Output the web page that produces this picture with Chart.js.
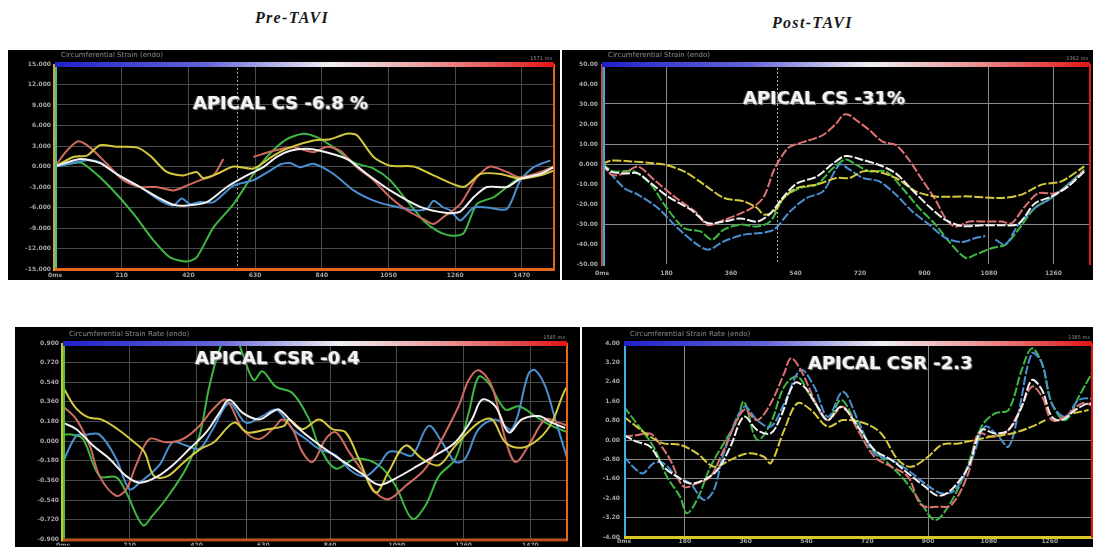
<!DOCTYPE html>
<html>
<head>
<meta charset="utf-8">
<script src="https://cdn.jsdelivr.net/npm/chart.js@4.4.1/dist/chart.umd.min.js"></script>
<style>
  html, body { margin: 0; padding: 0; background: #fff; }
  body { position: relative; width: 1093px; height: 547px; overflow: hidden; }
  .panel { position: absolute; background: #000; }
  .panel canvas { display: block; }
  .title { position: absolute; font: italic bold 16px "Liberation Serif", "DejaVu Serif", serif;
           letter-spacing: 1.3px; color: #1a1a1a; white-space: nowrap; line-height: 16px; }
  .tag { position: absolute; font: bold 18px "DejaVu Sans", sans-serif; line-height: 18px;
         color: #f4f4f4; text-shadow: 1px 1px 1px #8a8a8a, -1px 0 1px #555; white-space: nowrap; }
</style>
</head>
<body>

<div class="title" style="left:255px; top:10px;">Pre-TAVI</div>
<div class="title" style="left:772px; top:15px;">Post-TAVI</div>

<div class="panel" style="left:8px; top:50px; width:552px; height:230px;"><canvas id="preCs" width="552" height="230"></canvas></div>
<div class="panel" style="left:562px; top:50px; width:531px; height:230px;"><canvas id="postCs" width="531" height="230"></canvas></div>
<div class="panel" style="left:15px; top:327px; width:565px; height:220px;"><canvas id="preCsr" width="565" height="220"></canvas></div>
<div class="panel" style="left:582px; top:327px; width:511px; height:220px;"><canvas id="postCsr" width="511" height="220"></canvas></div>

<div class="tag" style="left:193px; top:94px;">APICAL CS -6.8 %</div>
<div class="tag" style="left:743px; top:89px;">APICAL CS -31%</div>
<div class="tag" style="left:195px; top:349px;">APICAL CSR -0.4</div>
<div class="tag" style="left:808px; top:354px;">APICAL CSR -2.3</div>

<script>
// ---- Pre-TAVI apical circumferential strain (%), [time ms, value] ----
const preCsWhite  = [[0,0],[79,1.1],[142,0.5],[194,-1.1],[268,-3.0],[331,-4.7],[373,-5.6],[415,-5.7],[478,-5.2],[541,-3.0],[604,-1.3],[656,-0.1],[698,1.4],[740,2.3],[790,2.6],[835,2.3],[919,1.1],[982,-1.1],[1055,-3.5],[1150,-5.9],[1234,-6.8],[1276,-6.6],[1318,-4.5],[1360,-3.0],[1423,-3.0],[1465,-1.8],[1528,-1.1],[1570,-0.1]];
const preCsGreen  = [[0,0],[79,0.6],[110,-0.3],[173,-3.0],[247,-6.9],[310,-10.8],[362,-13.3],[415,-13.9],[446,-13.3],[499,-8.9],[562,-5.5],[625,-1.1],[677,1.9],[730,4.0],[782,4.8],[824,4.3],[877,2.8],[940,0.6],[1003,-0.3],[1055,-2.0],[1108,-5.0],[1160,-7.9],[1202,-9.4],[1244,-10.1],[1286,-9.8],[1328,-5.5],[1381,-4.5],[1423,-3.0],[1465,-1.6],[1518,-1.1],[1570,0]];
const preCsYellow = [[0,0],[58,1.4],[100,1.6],[142,3.1],[194,2.9],[257,2.8],[299,1.6],[352,-0.8],[404,-1.3],[446,-0.8],[467,-1.7],[509,-1.1],[562,0],[625,-0.3],[688,1.6],[740,2.8],[814,3.8],[866,4.0],[919,4.8],[950,4.6],[1003,1.4],[1055,0.1],[1129,0],[1192,-1.3],[1286,-3.0],[1339,-1.1],[1402,-1.1],[1465,-1.8],[1528,-1.3],[1570,-0.6]];
const preCsRed    = [[0,0],[37,2.3],[73,3.7],[110,2.8],[163,0.4],[215,-2.0],[268,-3.0],[320,-3.0],[373,-3.5],[415,-2.8],[457,-2.0],[499,-1.3],[530,1.1],[560,null],[625,1.4],[688,2.3],[751,2.8],[814,2.1],[856,2.9],[898,2.3],[950,-0.1],[1003,-2.0],[1055,-4.5],[1108,-6.4],[1160,-7.7],[1192,-8.4],[1223,-7.4],[1276,-5.5],[1328,-1.6],[1370,0],[1423,-0.8],[1465,-1.6],[1528,-0.8],[1570,-0.1]];
const preCsBlue   = [[0,0],[47,0.4],[100,0.9],[142,0.6],[194,-1.1],[268,-3.0],[331,-5.0],[373,-5.7],[399,-4.7],[425,-5.5],[457,-5.2],[499,-5.2],[562,-2.8],[625,-2.0],[677,-0.6],[709,0.3],[740,0.5],[772,-0.1],[814,0.4],[877,-1.1],[940,-3.5],[1003,-5.0],[1055,-5.7],[1129,-6.4],[1171,-6.2],[1192,-5.0],[1223,-6.0],[1244,-6.4],[1276,-7.9],[1318,-6.0],[1360,-6.0],[1423,-6.2],[1465,-2.0],[1507,-0.1],[1560,0.9]];

// ---- Post-TAVI apical circumferential strain (%) ----
const postCsWhite  = [[0,0],[25,-3.8],[62,-4.7],[100,-4.7],[137,-9.7],[184,-16.3],[249,-23],[294,-29.5],[340,-28.8],[387,-27.2],[433,-28.8],[470,-24.7],[507,-16.3],[544,-9.7],[599,-6.3],[645,0.3],[680,4.0],[728,2.0],[774,-0.5],[820,-4.7],[866,-13],[913,-21.3],[959,-28],[1005,-31],[1061,-30.6],[1116,-30.6],[1162,-30],[1208,-19.7],[1254,-16.3],[1300,-11.3],[1346,-3.8]];
const postCsRed    = [[0,0],[29,-5.5],[62,-4.7],[100,-1.3],[146,-8],[202,-16.3],[266,-24.7],[294,-30.5],[340,-28],[387,-24.7],[424,-21.3],[452,-16.3],[480,-3],[507,5.3],[525,8.7],[580,12],[617,14.5],[654,20.3],[673,24.5],[690,24.5],[709,22],[746,17],[783,11.2],[820,9.5],[857,2],[894,-8],[931,-18],[959,-27.2],[986,-31.3],[1024,-28.8],[1070,-28.8],[1116,-28.8],[1143,-29.7],[1180,-21.3],[1217,-14.7],[1263,-14.7],[1300,-11.3],[1346,-3]];
const postCsGreen  = [[0,0],[33,-3.7],[89,-3.7],[137,-10.3],[174,-20.3],[229,-32],[275,-33.7],[307,-37.8],[340,-32.8],[387,-30.3],[433,-31.2],[470,-28.7],[507,-17],[553,-12],[599,-10.3],[645,-2],[680,2.2],[709,-0.3],[746,-3.7],[792,-3.7],[838,-12],[885,-22],[931,-30.3],[968,-38.7],[1015,-47],[1042,-45.3],[1089,-42],[1126,-40.3],[1162,-32.8],[1208,-22],[1254,-17],[1300,-10.3],[1346,-2.8]];
const postCsBlue   = [[0,0],[62,-12],[100,-15.3],[156,-22],[211,-32],[266,-40.3],[298,-42.8],[340,-38.7],[396,-35.3],[442,-34.5],[480,-32.8],[525,-23.7],[571,-17],[617,-13.7],[663,-0.3],[691,-2.8],[728,-7],[774,-8.7],[820,-15.3],[866,-23.7],[913,-30.3],[959,-37],[1005,-39],[1042,-37],[1070,-36],[1080,null],[1098,-37.8],[1126,-40.3],[1162,-30.3],[1208,-22],[1254,-17],[1300,-10.3],[1346,-3.7]];
const postCsYellow = [[0,0],[25,1.7],[80,1.3],[137,0.5],[174,-0.3],[229,-3.7],[285,-10.3],[340,-17],[396,-18.7],[433,-22],[452,-25.3],[480,-23.7],[507,-17],[544,-12],[599,-10.3],[654,-7],[691,-7],[728,-3.7],[765,-3.7],[820,-7],[876,-13.7],[931,-16.2],[1024,-16.2],[1116,-17],[1171,-15.3],[1227,-10.3],[1282,-8.7],[1346,-1.2]];

// ---- Pre-TAVI apical circumferential strain rate (1/s) ----
const preCsrWhite  = [[0,0.17],[42,0.11],[94,-0.04],[146,-0.16],[199,-0.32],[241,-0.38],[293,-0.33],[345,-0.22],[398,-0.07],[450,0.08],[492,0.26],[523,0.38],[565,0.26],[617,0.2],[659,0.27],[680,0.29],[732,0.14],[795,-0.01],[868,-0.16],[941,-0.3],[993,-0.4],[1046,-0.34],[1119,-0.22],[1171,-0.13],[1234,-0.01],[1286,0.2],[1318,0.38],[1360,0.32],[1402,0.08],[1443,0.2],[1496,0.23],[1537,0.17],[1579,0.12]];
const preCsrGreen  = [[0,0.06],[31,0.06],[63,0.02],[115,-0.32],[167,-0.33],[199,-0.47],[251,-0.77],[282,-0.68],[324,-0.53],[387,-0.25],[429,0.05],[460,0.5],[492,0.84],[530,1.05],[565,0.8],[600,0.56],[627,0.64],[669,0.5],[722,0.44],[774,0.2],[805,-0.04],[858,-0.25],[920,-0.16],[993,-0.22],[1046,-0.41],[1098,-0.71],[1140,-0.59],[1182,-0.32],[1234,-0.16],[1276,0.26],[1307,0.59],[1339,0.53],[1391,0.29],[1433,0.32],[1485,0.23],[1537,0.14],[1589,0.08]];
const preCsrYellow = [[0,0.5],[36,0.32],[78,0.22],[120,0.2],[172,0.11],[224,-0.01],[256,-0.1],[287,-0.32],[329,-0.32],[381,-0.19],[433,-0.07],[475,-0.01],[538,0.17],[580,0.08],[643,0.11],[695,0.14],[711,0.2],[753,0.11],[805,0.2],[847,0.11],[889,0.08],[930,-0.16],[983,-0.47],[1024,-0.28],[1077,-0.04],[1129,-0.16],[1182,-0.22],[1234,-0.04],[1307,0.17],[1349,0.2],[1391,-0.01],[1443,-0.06],[1496,0.02],[1537,0.17],[1579,0.47],[1600,0.53]];
const preCsrRed    = [[0,0.32],[42,0.2],[84,-0.04],[115,-0.32],[167,-0.5],[199,-0.44],[230,-0.22],[272,0.02],[324,-0.01],[377,0.02],[429,0.14],[471,0.29],[513,0.38],[565,0.11],[617,0.02],[669,0.14],[690,0.2],[722,0.11],[753,-0.1],[785,-0.19],[826,0.02],[858,0.08],[900,-0.1],[952,-0.32],[983,-0.47],[1024,-0.53],[1077,-0.41],[1140,-0.25],[1192,0.02],[1244,0.32],[1276,0.56],[1307,0.65],[1349,0.5],[1391,0.02],[1423,-0.19],[1464,-0.04],[1517,0.2],[1558,0.17],[1589,0.14]];
const preCsrBlue   = [[0,-0.19],[42,0.05],[73,0.06],[115,0.06],[167,-0.16],[209,-0.44],[241,-0.38],[303,-0.22],[345,-0.01],[387,-0.04],[429,-0.07],[471,0.11],[523,0.35],[575,0.17],[627,0.23],[669,0.29],[700,0.2],[722,0.11],[764,0.02],[805,-0.07],[858,-0.13],[910,-0.28],[952,-0.32],[993,-0.22],[1024,-0.1],[1056,-0.1],[1098,-0.13],[1150,0.14],[1192,-0.01],[1234,-0.19],[1265,-0.16],[1307,0.11],[1360,0.2],[1412,0.11],[1464,0.62],[1485,0.65],[1517,0.5],[1548,0.2],[1589,-0.19]];

// ---- Post-TAVI apical circumferential strain rate (1/s) ----
const postCsrWhite  = [[0,0.2],[37,-0.07],[77,-0.27],[117,-1.1],[156,-1.5],[196,-1.79],[236,-1.65],[276,-1.24],[315,-0.27],[355,0.96],[394,0.41],[434,0.27],[464,0.96],[504,2.34],[533,2.2],[573,1.37],[603,0.82],[643,1.37],[692,0.55],[741,-0.41],[791,-0.82],[840,-1.37],[890,-1.92],[930,-2.3],[969,-2.05],[1019,-1.1],[1058,0.41],[1098,0.27],[1138,0.41],[1177,1.37],[1207,2.47],[1237,2.06],[1266,0.96],[1296,0.82],[1336,1.24],[1375,1.51],[1395,1.37]];
const postCsrGreen  = [[0,1.37],[37,0.69],[87,-0.27],[127,-1.51],[166,-2.34],[186,-3.02],[216,-2.47],[256,-1.1],[295,-0.14],[335,0.82],[355,1.58],[394,0],[434,0.69],[474,2.2],[513,2.61],[553,1.79],[603,0.82],[642,1.65],[682,0.82],[731,-0.27],[781,-0.96],[830,-1.65],[880,-2.61],[920,-3.3],[959,-2.75],[1009,-1.37],[1058,0.55],[1098,1.1],[1138,1.24],[1177,2.89],[1207,3.78],[1237,3.16],[1266,1.51],[1306,0.82],[1346,1.79],[1395,3.02]];
const postCsrBlue   = [[0,-0.69],[37,-1.24],[57,-1.37],[87,-0.96],[117,-0.96],[156,-1.51],[196,-1.79],[236,-2.47],[266,-2.06],[295,-0.55],[355,1.37],[394,0.82],[434,0.55],[474,1.51],[523,2.89],[563,2.2],[603,0.96],[648,1.99],[692,0.82],[741,-0.55],[791,-0.82],[840,-1.24],[890,-1.79],[940,-2.2],[979,-2.06],[1029,-0.82],[1068,0.55],[1108,0.14],[1138,-0.27],[1167,1.1],[1207,3.57],[1237,3.16],[1266,1.51],[1306,0.96],[1346,1.65],[1395,1.72]];
const postCsrRed    = [[0,0.14],[37,0.2],[77,0.27],[97,0],[137,-0.82],[176,-1.92],[216,-1.79],[256,-1.51],[295,-0.41],[355,1.24],[394,0.82],[434,1.51],[474,2.75],[494,3.37],[523,2.89],[573,1.37],[603,0.82],[648,1.37],[692,0.41],[741,-0.69],[791,-1.1],[840,-1.51],[880,-2.68],[930,-2.75],[969,-2.68],[1019,-1.37],[1048,0.27],[1088,0.14],[1128,0.27],[1167,1.1],[1207,2.2],[1237,1.79],[1266,0.82],[1306,0.96],[1355,1.51],[1395,1.37]];
const postCsrYellow = [[0,0.96],[37,0.55],[77,0.14],[117,-0.14],[166,-0.2],[216,-0.55],[266,-1.1],[315,-0.82],[365,-0.55],[414,-0.69],[434,-0.96],[474,0.41],[513,1.51],[553,1.24],[603,0.55],[648,0.82],[712,0.69],[761,0.27],[811,-0.82],[850,-1.1],[900,-0.69],[940,-0.2],[989,-0.14],[1038,0],[1088,0.14],[1148,0.27],[1207,0.55],[1247,0.82],[1270,null],[1330,1.1],[1375,1.24]];

// ---- axis ticks and labels ----
const preCsYTicks   = [-15,-12,-9,-6,-3,0,3,6,9,12,15];
const preCsYLabels  = ['-15.000','-12.000','-9.000','-6.000','-3.000','0.000','3.000','6.000','9.000','12.000','15.000'];
const postCsYTicks  = [-50,-40,-30,-20,-10,0,10,20,30,40,50];
const postCsYLabels = ['-50.00','-40.00','-30.00','-20.00','-10.00','0.000','10.00','20.00','30.00','40.00','50.00'];
const preCsrYTicks  = [-0.9,-0.72,-0.54,-0.36,-0.18,0,0.18,0.36,0.54,0.72,0.9];
const preCsrYLabels = ['-0.900','-0.720','-0.540','-0.360','-0.180','0.000','0.180','0.360','0.540','0.720','0.900'];
const postCsrYTicks  = [-4,-3.2,-2.4,-1.6,-0.8,0,0.8,1.6,2.4,3.2,4];
const postCsrYLabels = ['-4.00','-3.20','-2.40','-1.60','-0.80','0.00','0.80','1.60','2.40','3.20','4.00'];

const preXTicks   = [0,210,420,630,840,1050,1260,1470];
const preXLabels  = ['0ms','210','420','630','840','1050','1260','1470'];
const postXTicks  = [0,180,360,540,720,900,1080,1260];
const postXLabels = ['0ms','180','360','540','720','900','1080','1260'];

// cycle lengths (ms) and aortic valve closure markers (ms)
const preCsDuration = 1571, postCsDuration = 1362, preCsrDuration = 1585, postCsrDuration = 1385;
const preCsAvc = 573, postCsAvc = 488, preCsrAvc = 577;

// segment colours
const WHITE = '#f2f2f2', YELLOW = '#d4c93e', GREEN = '#3db843', BLUE = '#4a8fd0', RED = '#cf6a5e', PINK = '#dc7272';

const gradientStops = [[0,'#2020cc'],[0.3,'#6464d8'],[0.55,'#f0f0f4'],[0.75,'#ec9a9a'],[1,'#e01414']];

// draws the colour bar, caption, coloured plot edges and valve-closure marker
const decor = {
  id: 'decor',
  beforeDatasetsDraw(chart, args, o) {
    if (o.marker == null) return;
    const {ctx, chartArea: a, scales} = chart;
    const x = Math.round(scales.x.getPixelForValue(o.marker)) + 0.5;
    ctx.save();
    ctx.strokeStyle = o.markerColor;
    ctx.lineWidth = 1;
    ctx.setLineDash(o.markerDash);
    ctx.beginPath(); ctx.moveTo(x, a.top); ctx.lineTo(x, a.bottom); ctx.stroke();
    ctx.restore();
  },
  afterDatasetsDraw(chart, args, o) {
    const {ctx, chartArea: a} = chart;
    ctx.save();
    // plot edges
    o.leftEdges.forEach(([dx, c]) => {
      ctx.fillStyle = c; ctx.fillRect(a.left + dx, a.top, 2, a.bottom - a.top + 2);
    });
    if (o.bottomEdge) { ctx.fillStyle = o.bottomEdge; ctx.fillRect(a.left, a.bottom - 1, a.right - a.left + 1, 3); }
    if (o.rightEdge) { ctx.fillStyle = o.rightEdge; ctx.fillRect(a.right - 1, a.top, 2, a.bottom - a.top + 1); }
    // colour bar
    const g = ctx.createLinearGradient(a.left, 0, a.right, 0);
    gradientStops.forEach(([p, c]) => g.addColorStop(p, c));
    ctx.fillStyle = g;
    ctx.fillRect(a.left, a.top - 2, a.right - a.left, 5);
    // caption and cycle length
    ctx.fillStyle = '#8e8e8e';
    ctx.textBaseline = 'bottom';
    ctx.font = '7px "DejaVu Sans"';
    ctx.fillText(o.caption, a.left + 6, a.top - 5);
    ctx.textAlign = 'right';
    ctx.font = '5px "DejaVu Sans"';
    ctx.fillText(o.duration + ' ms', a.right - 2, a.top - 3);
    ctx.restore();
  }
};

function pts(arr) { return arr.map(p => ({x: p[0], y: p[1]})); }

function makePanel(id, cfg) {
  const lbl = (ticks, labels) => v => { const i = ticks.findIndex(t => Math.abs(t - v) < 1e-6); return i < 0 ? '' : labels[i]; };
  const gridOn = (list, color) => c => (c.tick && list.some(t => Math.abs(t - c.tick.value) < 1e-6)) ? color : 'rgba(0,0,0,0)';
  new Chart(document.getElementById(id), {
    type: 'line',
    data: {
      datasets: cfg.series.map(s => ({
        data: pts(s[0]), borderColor: s[1], borderWidth: 2, pointRadius: 0,
        tension: cfg.tension, borderDash: cfg.dash, spanGaps: false, fill: false
      }))
    },
    options: {
      responsive: false, animation: false, devicePixelRatio: 1,
      layout: { padding: { top: cfg.padTop, right: cfg.padRight, left: 0, bottom: 0 } },
      plugins: { legend: { display: false }, tooltip: { enabled: false }, decor: cfg.decor },
      scales: {
        x: {
          type: 'linear', min: 0, max: cfg.xMax,
          afterBuildTicks: sc => { sc.ticks = cfg.xTicks.map(v => ({value: v})); },
          afterFit: sc => { sc.height = cfg.xH; },
          ticks: { color: '#a6a6a6', font: { size: 6, family: 'DejaVu Sans', weight: 'bold' }, padding: cfg.xPad,
                   maxRotation: 0, autoSkip: false, callback: lbl(cfg.xTicks, cfg.xLabels) },
          grid: { color: gridOn(cfg.xGrid, cfg.gridColor), lineWidth: 1, drawTicks: false },
          border: { display: false }
        },
        y: {
          type: 'linear', min: cfg.yTicks[0], max: cfg.yTicks[cfg.yTicks.length - 1],
          afterBuildTicks: sc => { sc.ticks = cfg.yTicks.map(v => ({value: v})); },
          afterFit: sc => { sc.width = cfg.yW; },
          ticks: { color: '#a6a6a6', font: { size: 6, family: 'DejaVu Sans', weight: 'bold' }, padding: 4,
                   autoSkip: false, callback: lbl(cfg.yTicks, cfg.yLabels) },
          grid: { color: gridOn(cfg.yGrid, cfg.gridColor), lineWidth: 1, drawTicks: false },
          border: { display: false }
        }
      }
    },
    plugins: [decor]
  });
}

makePanel('preCs', {
  series: [[preCsWhite, WHITE], [preCsYellow, YELLOW], [preCsRed, RED], [preCsBlue, BLUE], [preCsGreen, GREEN]],
  tension: 0.25, dash: [],
  xMax: preCsDuration, xTicks: preXTicks, xLabels: preXLabels, xGrid: [210,420,630,840,1050,1260,1470],
  yTicks: preCsYTicks, yLabels: preCsYLabels, yGrid: [-12,-9,-6,-3,0,3,6,9,12],
  gridColor: '#4a4a4a', padTop: 14, padRight: 6, yW: 47, xH: 11, xPad: 3,
  decor: { caption: 'Circumferential Strain (endo)', duration: preCsDuration, marker: preCsAvc,
           markerColor: '#9a9a9a', markerDash: [2, 2],
           leftEdges: [[-2, '#d9a324'], [0, '#35c4a4']], bottomEdge: '#e2661c', rightEdge: '#e2661c' }
});

makePanel('postCs', {
  series: [[postCsWhite, WHITE], [postCsYellow, YELLOW], [postCsRed, PINK], [postCsBlue, BLUE], [postCsGreen, GREEN]],
  tension: 0.3, dash: [9, 2],
  xMax: postCsDuration, xTicks: postXTicks, xLabels: postXLabels, xGrid: [180,1080,1260],
  yTicks: postCsYTicks, yLabels: postCsYLabels, yGrid: [-30,0,10,30],
  gridColor: '#8a8a8a', padTop: 14, padRight: 3, yW: 40, xH: 16, xPad: 6,
  decor: { caption: 'Circumferential Strain (endo)', duration: postCsDuration, marker: postCsAvc,
           markerColor: '#b0b0b0', markerDash: [2, 2],
           leftEdges: [[-1, '#c84848'], [1, '#3ea8e0']], bottomEdge: null, rightEdge: '#e01818' }
});

makePanel('preCsr', {
  series: [[preCsrWhite, WHITE], [preCsrYellow, YELLOW], [preCsrRed, RED], [preCsrBlue, BLUE], [preCsrGreen, GREEN]],
  tension: 0.35, dash: [],
  xMax: preCsrDuration, xTicks: preXTicks, xLabels: preXLabels, xGrid: [210,420,840,1050,1260,1470],
  yTicks: preCsrYTicks, yLabels: preCsrYLabels, yGrid: [-0.72,-0.54,-0.36,-0.18,0,0.18,0.36,0.54,0.72],
  gridColor: '#4a4a4a', padTop: 16, padRight: 13, yW: 48, xH: 6, xPad: 2,
  decor: { caption: 'Circumferential Strain Rate (endo)', duration: preCsrDuration, marker: preCsrAvc,
           markerColor: '#5a5a5a', markerDash: [],
           leftEdges: [[-2, '#d6c52a'], [0, '#44c444']], bottomEdge: '#b8501a', rightEdge: '#e2661c' }
});

makePanel('postCsr', {
  series: [[postCsrWhite, WHITE], [postCsrYellow, YELLOW], [postCsrRed, PINK], [postCsrBlue, BLUE], [postCsrGreen, GREEN]],
  tension: 0.35, dash: [9, 2],
  xMax: postCsrDuration, xTicks: postXTicks, xLabels: postXLabels, xGrid: [180,900],
  yTicks: postCsrYTicks, yLabels: postCsrYLabels, yGrid: [-3.2,-1.6,-0.8,0],
  gridColor: '#8a8a8a', padTop: 16, padRight: 1, yW: 42, xH: 10, xPad: 1,
  decor: { caption: 'Circumferential Strain Rate (endo)', duration: postCsrDuration, marker: null,
           markerColor: '#888', markerDash: [],
           leftEdges: [[0, '#3eb0e4']], bottomEdge: '#d8c828', rightEdge: '#e01818' }
});
</script>
</body>
</html>
